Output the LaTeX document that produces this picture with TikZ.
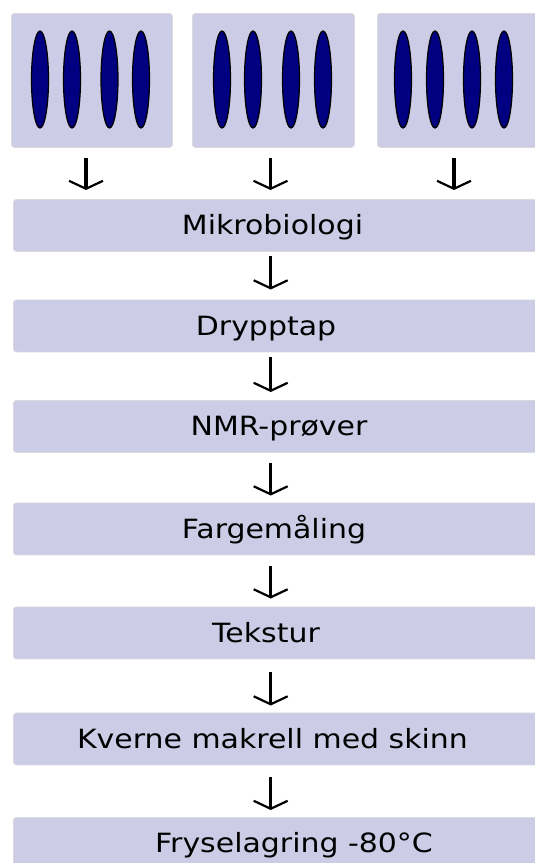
\documentclass[tikz,border=0pt]{standalone}
\usepackage{fontspec}
\setmainfont{DejaVu Sans}
\newfontfamily\boxfont[FakeStretch=1.13]{DejaVu Sans}
\usetikzlibrary{arrows.meta,shapes.geometric}
\definecolor{boxfill}{RGB}{204,204,230}
\definecolor{boxedge}{RGB}{218,218,222}
\definecolor{fishblue}{RGB}{0,0,128}
\tikzset{
  topbox/.style={draw=boxedge, line width=0.8pt, fill=boxfill, rounded corners=3pt, minimum height=134pt, inner sep=0pt, anchor=north west},
  flowbox/.style={draw=boxedge, line width=0.8pt, fill=boxfill, rounded corners=3pt, minimum width=530pt, minimum height=52pt, inner sep=0pt, anchor=north west},
  fish/.style={draw=black, line width=1.2pt, fill=fishblue, ellipse, minimum width=17pt, minimum height=97pt, inner sep=0pt},
  boxtext/.style={anchor=base, inner sep=0pt, font=\boxfont\fontsize{26.5pt}{30pt}\selectfont, text=black},
  flowarrow/.style={line width=3.4pt, -{Straight Barb[length=8pt, width=34pt, line width=2.2pt]}}
}
\begin{document}
\begin{tikzpicture}[x=1pt, y=-1pt]
\useasboundingbox (0,0) rectangle (535,863);
\clip (0,0) rectangle (535,863);
% top boxes
\node[topbox, minimum width=161pt] (t1) at (11,13) {};
\node[topbox, minimum width=162pt] (t2) at (192,13) {};
\node[topbox, minimum width=160pt] (t3) at (377,13) {};
% fish
\foreach \x [count=\i] in {40,72,109.5,141,222,253,291,323,403,435,472,504}
  \node[fish] (f\i) at (\x,79.5) {};
% flow boxes
\node[flowbox] (b1) at (13,199) {};
\node[flowbox] (b2) at (13,299.5) {};
\node[flowbox] (b3) at (13,400) {};
\node[flowbox] (b4) at (13,502.5) {};
\node[flowbox] (b5) at (13,606.5) {};
\node[flowbox] (b6) at (13,712.5) {};
\node[flowbox] (b7) at (13,817) {};
% texts
\node[boxtext] (l1) at (272.5,234.5) {Mikrobiologi};
\node[boxtext] (l2) at (266,335) {Drypptap};
\node[boxtext] (l3) at (279,435.5) {NMR-prøver};
\node[boxtext] (l4) at (274,538) {Fargemåling};
\node[boxtext] (l5) at (266,642) {Tekstur};
\node[boxtext] (l6) at (272.5,748) {Kverne makrell med skinn};
\node[boxtext] (l7) at (294,852) {Fryselagring -80°C};
% arrow columns
\coordinate (c1) at (86,0);
\coordinate (c2) at (270.5,0);
\coordinate (c3) at (454,0);
\coordinate (cm) at (270.7,0);
\draw[flowarrow] ([yshift=-10pt]t1.south -| c1) -- ([yshift=9pt]b1.north -| c1);
\draw[flowarrow] ([yshift=-10pt]t2.south -| c2) -- ([yshift=9pt]b1.north -| c2);
\draw[flowarrow] ([yshift=-10pt]t3.south -| c3) -- ([yshift=9pt]b1.north -| c3);
\draw[flowarrow] ([yshift=-4pt]b1.south -| cm) -- ([yshift=10pt]b2.north -| cm);
\draw[flowarrow] ([yshift=-5pt]b2.south -| cm) -- ([yshift=8pt]b3.north -| cm);
\draw[flowarrow] ([yshift=-10pt]b3.south -| cm) -- ([yshift=7pt]b4.north -| cm);
\draw[flowarrow] ([yshift=-11pt]b4.south -| cm) -- ([yshift=8pt]b5.north -| cm);
\draw[flowarrow] ([yshift=-13pt]b5.south -| cm) -- ([yshift=7pt]b6.north -| cm);
\draw[flowarrow] ([yshift=-12pt]b6.south -| cm) -- ([yshift=7pt]b7.north -| cm);
\end{tikzpicture}
\end{document}
